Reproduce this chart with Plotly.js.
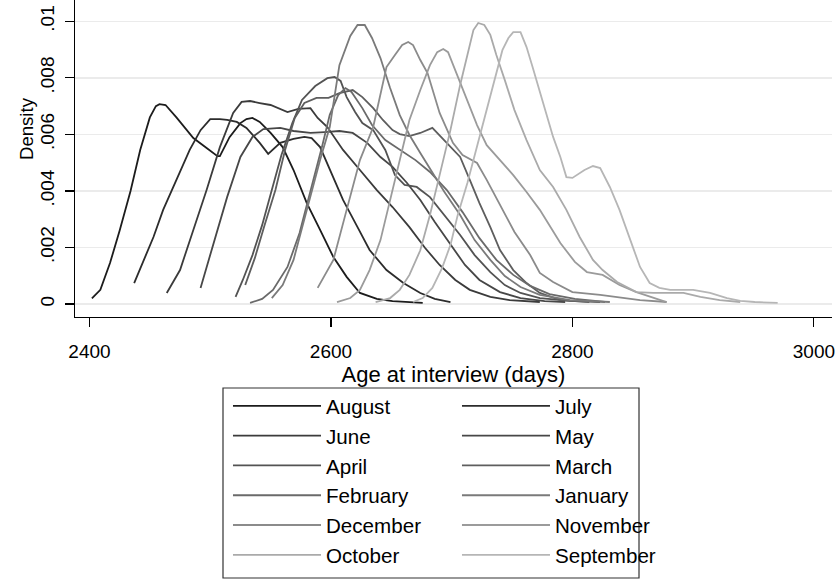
<!DOCTYPE html>
<html>
<head>
<meta charset="utf-8">
<script src="https://cdn.plot.ly/plotly-3.0.1.min.js"></script>
<style>html,body{margin:0;padding:0;background:#fff}#chart{width:839px;height:580px}</style>
</head>
<body>
<div id="chart"></div>
<script>
// ---- data ----
var months = ["August","July","June","May","April","March","February","January","December","November","October","September"];
var lineColors = ["#1c1c1c","#2c2c2c","#3b3b3b","#474747","#535353","#5e5e5e","#6a6a6a","#7a7a7a","#8b8b8b","#9b9b9b","#aaaaaa","#b6b6b6"];

var augDays = [2402,2409,2417,2425,2434,2442,2450,2455,2458,2463,2472,2481,2486,2497,2506,2508,2516,2525,2530,2535,2541,2550,2560,2569,2580,2591,2602,2613,2624,2638,2651,2676];
var augDens = [.0002,.0005,.00145,.0026,.004,.00545,.0066,.007,.00707,.00704,.0066,.00615,.00587,.00552,.00523,.00523,.0059,.0064,.00654,.00658,.00644,.00605,.00555,.00474,.00357,.00262,.00166,.00096,.00039,.00018,.0001,.00004];

var julDays = [2437,2444,2453,2461,2472,2483,2492,2500,2508,2514,2522,2530,2541,2548,2558,2569,2578,2584,2591,2599,2610,2622,2632,2646,2660,2674,2686,2699];
var julDens = [.00074,.00145,.00237,.00333,.00439,.00545,.00615,.00654,.00654,.00651,.00644,.00623,.0057,.00531,.0057,.00584,.00591,.00587,.00555,.00474,.00368,.00272,.00191,.0012,.00074,.00039,.00018,.00007];

var junDays = [2464,2475,2486,2497,2508,2519,2526,2533,2541,2550,2564,2573,2583,2589,2597,2610,2624,2638,2651,2665,2678,2690,2703,2715,2732,2748,2773];
var junDens = [.00039,.0012,.00262,.00403,.00555,.00676,.00715,.00718,.00711,.00704,.00679,.0069,.00693,.00658,.00626,.00545,.00474,.00403,.00343,.00272,.00198,.00138,.00085,.0005,.00025,.00014,.00007];

var mayDays = [2492,2502,2514,2525,2535,2544,2558,2569,2583,2595,2607,2618,2630,2641,2651,2663,2674,2686,2699,2711,2723,2740,2757,2777,2794];
var mayDens = [.00057,.00202,.00378,.0052,.00591,.00619,.00623,.00612,.00605,.00608,.00612,.00605,.0057,.0052,.00485,.00428,.00368,.0029,.00209,.00138,.00085,.00042,.00021,.0001,.00007];

var aprDays = [2521,2527,2535,2543,2551,2559,2568,2576,2587,2597,2603,2608,2613,2620,2626,2635,2645,2653,2661,2671,2682,2694,2707,2719,2732,2744,2757,2773,2798,2823];
var aprDens = [.00025,.00085,.00173,.00279,.00403,.00527,.0064,.00722,.00771,.00799,.00803,.00789,.00732,.00679,.0064,.00615,.00545,.00456,.00421,.00414,.00378,.00315,.00244,.00173,.00113,.00067,.00039,.00021,.00011,.00007];

var marDays = [2529,2537,2545,2554,2562,2570,2578,2588,2598,2607,2618,2626,2635,2643,2651,2657,2665,2674,2684,2696,2707,2715,2723,2732,2740,2751,2762,2773,2790,2814];
var marDens = [.00067,.00163,.00279,.00403,.00545,.00658,.00711,.00729,.00729,.00746,.00757,.00732,.00693,.00651,.00615,.00601,.00594,.00605,.00623,.0057,.0052,.00439,.00357,.00272,.00191,.0012,.00074,.00039,.00014,.00007];

var febDays = [2533,2543,2552,2564,2574,2585,2593,2599,2606,2612,2617,2626,2634,2645,2657,2670,2682,2696,2709,2723,2737,2751,2765,2781,2802,2827];
var febDens = [.00004,.00018,.0005,.00131,.00251,.00428,.00563,.00669,.00739,.00764,.0075,.00693,.00633,.0058,.00545,.00509,.00467,.00403,.00325,.00233,.00156,.00103,.00064,.00035,.00018,.00007];

var janDays = [2551,2560,2569,2580,2591,2599,2607,2616,2622,2628,2634,2641,2649,2657,2665,2674,2684,2694,2707,2719,2732,2744,2757,2773,2798,2831];
var janDens = [.00021,.00067,.00156,.00333,.00509,.00626,.00845,.00948,.00987,.00987,.00941,.0087,.00764,.00668,.00598,.00534,.00467,.00396,.00315,.00226,.00156,.00099,.0006,.00032,.00014,.00007];

var decDays = [2589,2602,2613,2624,2635,2641,2646,2653,2659,2664,2668,2674,2680,2690,2701,2709,2721,2729,2740,2752,2765,2773,2784,2800,2823,2856,2878];
var decDens = [.00057,.00156,.00333,.00509,.00626,.00739,.00838,.00881,.00916,.00927,.00916,.00863,.00817,.00676,.0057,.00527,.00499,.00439,.0035,.00255,.00173,.0011,.00078,.00042,.00032,.00014,.00007];

var novDays = [2605,2616,2624,2632,2641,2649,2657,2665,2674,2682,2688,2693,2697,2703,2711,2721,2729,2740,2751,2762,2773,2790,2802,2812,2825,2839,2853,2878];
var novDens = [.00007,.00021,.0005,.0012,.00226,.00368,.00509,.00651,.00757,.00845,.00891,.00902,.00891,.00828,.00739,.00633,.00562,.00509,.00456,.00396,.00333,.00216,.00149,.00113,.00103,.00067,.00042,.00007];

var octDays = [2637,2649,2657,2665,2674,2682,2690,2699,2707,2713,2718,2722,2727,2732,2737,2744,2752,2762,2773,2784,2795,2806,2817,2825,2837,2853,2867,2892,2906,2922,2939];
var octDens = [.00007,.00021,.0005,.00103,.0019,.00315,.00456,.00616,.00775,.00881,.00969,.00994,.00987,.00952,.00881,.00792,.00686,.0058,.00474,.00414,.00333,.00237,.00156,.0012,.00078,.00042,.00039,.00039,.00025,.00014,.00007];

var sepDays = [2668,2676,2684,2692,2699,2705,2713,2718,2723,2729,2734,2738,2742,2747,2751,2757,2762,2767,2776,2784,2790,2795,2800,2810,2817,2823,2831,2839,2848,2856,2864,2872,2881,2900,2914,2928,2939,2951,2970];
var sepDens = [.00007,.00021,.00057,.00127,.00209,.00315,.00428,.00509,.00591,.00679,.00764,.00835,.00898,.00941,.00962,.00962,.00909,.00838,.00711,.00591,.0052,.00449,.00446,.00474,.00488,.00481,.00414,.00333,.00226,.00131,.00074,.00057,.0005,.0005,.00039,.00021,.00011,.00007,.00004];

var xTickVals = [2400,2600,2800,3000];
var xTickText = ["2400","2600","2800","3000"];
var yTickVals = [0,.002,.004,.006,.008,.01];
var yTickText = ["0",".002",".004",".006",".008",".01"];

// ---- build ----
var series = [
  [augDays,augDens],[julDays,julDens],[junDays,junDens],[mayDays,mayDens],
  [aprDays,aprDens],[marDays,marDens],[febDays,febDens],[janDays,janDens],
  [decDays,decDens],[novDays,novDens],[octDays,octDens],[sepDays,sepDens]
];
var FONT = "Liberation Sans, Arial, Helvetica, sans-serif";
var traces = series.map(function(s, i){
  return {
    type: "scatter", mode: "lines", x: s[0], y: s[1], name: months[i],
    line: {color: lineColors[i], width: 1.8},
    legend: (i % 2 === 0) ? "legend" : "legend2",
    hoverinfo: "skip"
  };
});

var legendCommon = {
  orientation: "v", xref: "paper", yref: "paper",
  xanchor: "left", yanchor: "top", y: -0.2177,
  bgcolor: "rgba(0,0,0,0)", borderwidth: 0,
  font: {family: FONT, size: 20.6, color: "#000"},
  itemwidth: 88, tracegroupgap: 0, itemclick: false, itemdoubleclick: false
};

var layout = {
  width: 839, height: 580,
  margin: {l: 75, r: 7, t: 0, b: 263, pad: 0},
  paper_bgcolor: "#fff", plot_bgcolor: "#fff",
  font: {family: FONT, color: "#000", size: 19},
  showlegend: true,
  legend: Object.assign({}, legendCommon, {x: 0.2021}),
  legend2: Object.assign({}, legendCommon, {x: 0.5046}),
  xaxis: {
    range: [2388, 3015], tickvals: xTickVals, ticktext: xTickText,
    showgrid: false, zeroline: false, showline: true, linecolor: "#000", linewidth: 1.2,
    ticks: "outside", ticklen: 9, tickwidth: 1.2, tickcolor: "#000",
    ticklabelstandoff: 8,
    tickfont: {family: FONT, size: 19, color: "#000"},
    title: {text: "Age at interview (days)", font: {family: FONT, size: 22, color: "#000"}, standoff: 0},
    automargin: false
  },
  yaxis: {
    range: [-0.00046, 0.010754], tickvals: yTickVals, ticktext: yTickText,
    showgrid: true, gridcolor: "#ebebeb", gridwidth: 1.5, zeroline: false,
    showline: true, linecolor: "#000", linewidth: 1.2,
    ticks: "outside", ticklen: 9, tickwidth: 1.2, tickcolor: "#000", tickangle: -90,
    ticklabelstandoff: 3,
    tickfont: {family: FONT, size: 19, color: "#000"},
    automargin: false
  },
  annotations: [{
    text: "Density", xref: "paper", yref: "paper", x: -0.0647, y: 0.593,
    xanchor: "center", yanchor: "middle", textangle: -90, showarrow: false,
    font: {family: FONT, size: 18.6, color: "#000"}
  }],
  shapes: [{
    type: "rect", xref: "paper", yref: "paper",
    x0: 0.19551, x1: 0.74505, y0: -0.82334, y1: -0.22397,
    line: {color: "#333", width: 1.2}, fillcolor: "rgba(0,0,0,0)", layer: "above"
  }]
};

Plotly.newPlot("chart", traces, layout, {displayModeBar: false, staticPlot: true});
</script>
</body>
</html>
